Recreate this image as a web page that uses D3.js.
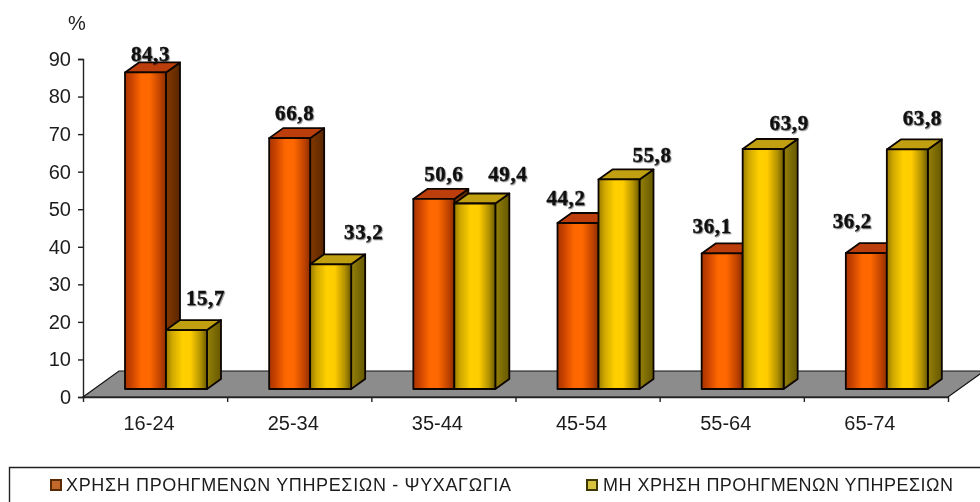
<!DOCTYPE html>
<html><head><meta charset="utf-8">
<script src="https://cdn.jsdelivr.net/npm/d3@7"></script>
<style>
html,body{margin:0;padding:0;background:#fff;overflow:hidden}
svg{display:block;filter:blur(.5px)}
text{font-family:"Liberation Sans",Arial,sans-serif;fill:#1c1c1c}
.val{font-family:"Liberation Serif","Times New Roman",serif;font-weight:bold;font-size:21px;letter-spacing:.6px;fill:#111;stroke:#111;stroke-width:.4px;text-shadow:1px 1px 1px rgba(0,0,0,.4)}
</style></head><body>
<script>
const categories = ["16-24","25-34","35-44","45-54","55-64","65-74"];
const seriesNames = ["ΧΡΗΣΗ ΠΡΟΗΓΜΕΝΩΝ ΥΠΗΡΕΣΙΩΝ - ΨΥΧΑΓΩΓΙΑ","ΜΗ ΧΡΗΣΗ ΠΡΟΗΓΜΕΝΩΝ ΥΠΗΡΕΣΙΩΝ"];
const useValues = [84.3,66.8,50.6,44.2,36.1,36.2];
const nonUseValues = [15.7,33.2,49.4,55.8,63.9,63.8];
const yTicks = [0,10,20,30,40,50,60,70,80,90];

const W=980,H=502;
const svg=d3.select("body").append("svg").attr("width",W).attr("height",H);
const x=d3.scaleBand().domain(categories).range([83,948]);
const y=d3.scaleLinear().domain([0,90]).range([397,59]);
const sub=d3.scaleBand().domain([0,1]).range([42,124]);
const floorLift=8, dx=14, dy=10;
const bw=sub.bandwidth();
const palette=[
 {id:"gO",sid:"sO",stops:["#a83400","#c84200","#ff6800","#ff6800","#c24400","#8c2e00"],sideStops:["#843800","#5a2600"],top:"#bc3e0c"},
 {id:"gY",sid:"sY",stops:["#987c00","#d0a800","#ffd000","#ffcc00","#b09000","#6a5a00"],sideStops:["#94800a","#665800"],top:"#c0a010"}
];
const defs=svg.append("defs");
palette.forEach(p=>{
  const g=defs.append("linearGradient").attr("id",p.id);
  const off=[0,.15,.4,.6,.85,1];
  p.stops.forEach((c,i)=>g.append("stop").attr("offset",off[i]).attr("stop-color",c));
  const gs=defs.append("linearGradient").attr("id",p.sid);
  p.sideStops.forEach((c,i)=>gs.append("stop").attr("offset",i).attr("stop-color",c));
});

// floor
const fx0=x.range()[0], fx1=x.range()[1], fy=y(0), fdx=36, fdy=26;
svg.append("path").attr("d",`M${fx0},${fy}L${fx0+fdx},${fy-fdy}L${fx1+fdx},${fy-fdy}L${fx1},${fy}Z`)
  .attr("fill","#8c8c8c").attr("stroke","#111").attr("stroke-width",1.2);

// bars
const series=[useValues,nonUseValues];
const bar=(cat,s,v)=>{
  const l=x(cat)+sub(s), r=l+bw, b=y(0)-floorLift, t=y(v)-floorLift;
  return {l,r,b,t};
};
categories.forEach((cat,i)=>{
  series.forEach((vals,s)=>{
    const {l,r,b,t}=bar(cat,s,vals[i]), p=palette[s];
    const g=svg.append("g").attr("stroke","#0c0500").attr("stroke-width",1.8).attr("stroke-linejoin","round");
    g.append("path").attr("d",`M${r},${t}L${r+dx},${t-dy}L${r+dx},${b-dy}L${r},${b}Z`).attr("fill",`url(#${p.sid})`);
    g.append("path").attr("d",`M${l},${t}L${l+dx},${t-dy}L${r+dx},${t-dy}L${r},${t}Z`).attr("fill",p.top);
    g.append("rect").attr("x",l).attr("y",t).attr("width",bw).attr("height",b-t).attr("fill",`url(#${p.id})`);
  });
});

// axes
const yAxis=d3.axisLeft(y).tickValues(yTicks).tickSize(5).tickPadding(7);
const ga=svg.append("g").attr("transform",`translate(${fx0},0)`).call(yAxis);
ga.selectAll("text").attr("font-size",20).attr("fill","#1c1c1c").style("font-family",'"Liberation Sans"');
ga.selectAll("line,path").attr("stroke","#222").attr("stroke-width",1.4);
const edge=d3.scalePoint().domain(d3.range(categories.length+1)).range(x.range());
const xa=svg.append("g").attr("transform",`translate(0,${fy})`)
  .call(d3.axisBottom(edge).tickSize(5).tickFormat(""));
xa.selectAll("line,path").attr("stroke","#222").attr("stroke-width",1.4);
xa.select("path").attr("d",`M${fx0},0.5H${fx1}`);
svg.append("g").selectAll("text").data(categories).join("text")
  .attr("x",d=>x(d)+x.bandwidth()/2-6).attr("y",430).attr("text-anchor","middle").attr("font-size",20).text(d=>d);
svg.append("text").attr("x",77).attr("y",30).attr("text-anchor","middle").attr("font-size",20).text("%");

// value labels (hand placed around each bar, as in the source)
const nudge=[[[5,-11],[5,-18],[10,-18],[-12,-18],[-10,-20],[-14,-25]],
             [[19,-25],[33,-25],[33,-22],[33,-17],[26,-19],[15,-24]]];
series.forEach((vals,s)=>vals.forEach((v,i)=>{
  const {l,t}=bar(categories[i],s,v);
  svg.append("text").attr("class","val").attr("text-anchor","middle")
    .attr("x",l+bw/2+nudge[s][i][0]).attr("y",t+nudge[s][i][1])
    .text(String(v.toFixed(1)).replace(".",","));
}));

// legend
svg.append("path").attr("d",`M9.5,${H+5}V467.5H${W+5}`).attr("fill","none").attr("stroke","#222").attr("stroke-width",1.4);
const legend=[{sx:51,tx:66,len:445,fill:"#c2682c",st:"#5a2a00"},{sx:587,tx:603,len:350,fill:"#d6c23c",st:"#3c3600"}];
legend.forEach((d,i)=>{
  svg.append("rect").attr("x",d.sx).attr("y",480).attr("width",10).attr("height",10).attr("fill",d.fill).attr("stroke",d.st).attr("stroke-width",2);
  svg.append("text").attr("x",d.tx).attr("y",491).attr("font-size",18).attr("textLength",d.len).attr("lengthAdjust","spacing").text(seriesNames[i]);
});
</script></body></html>
